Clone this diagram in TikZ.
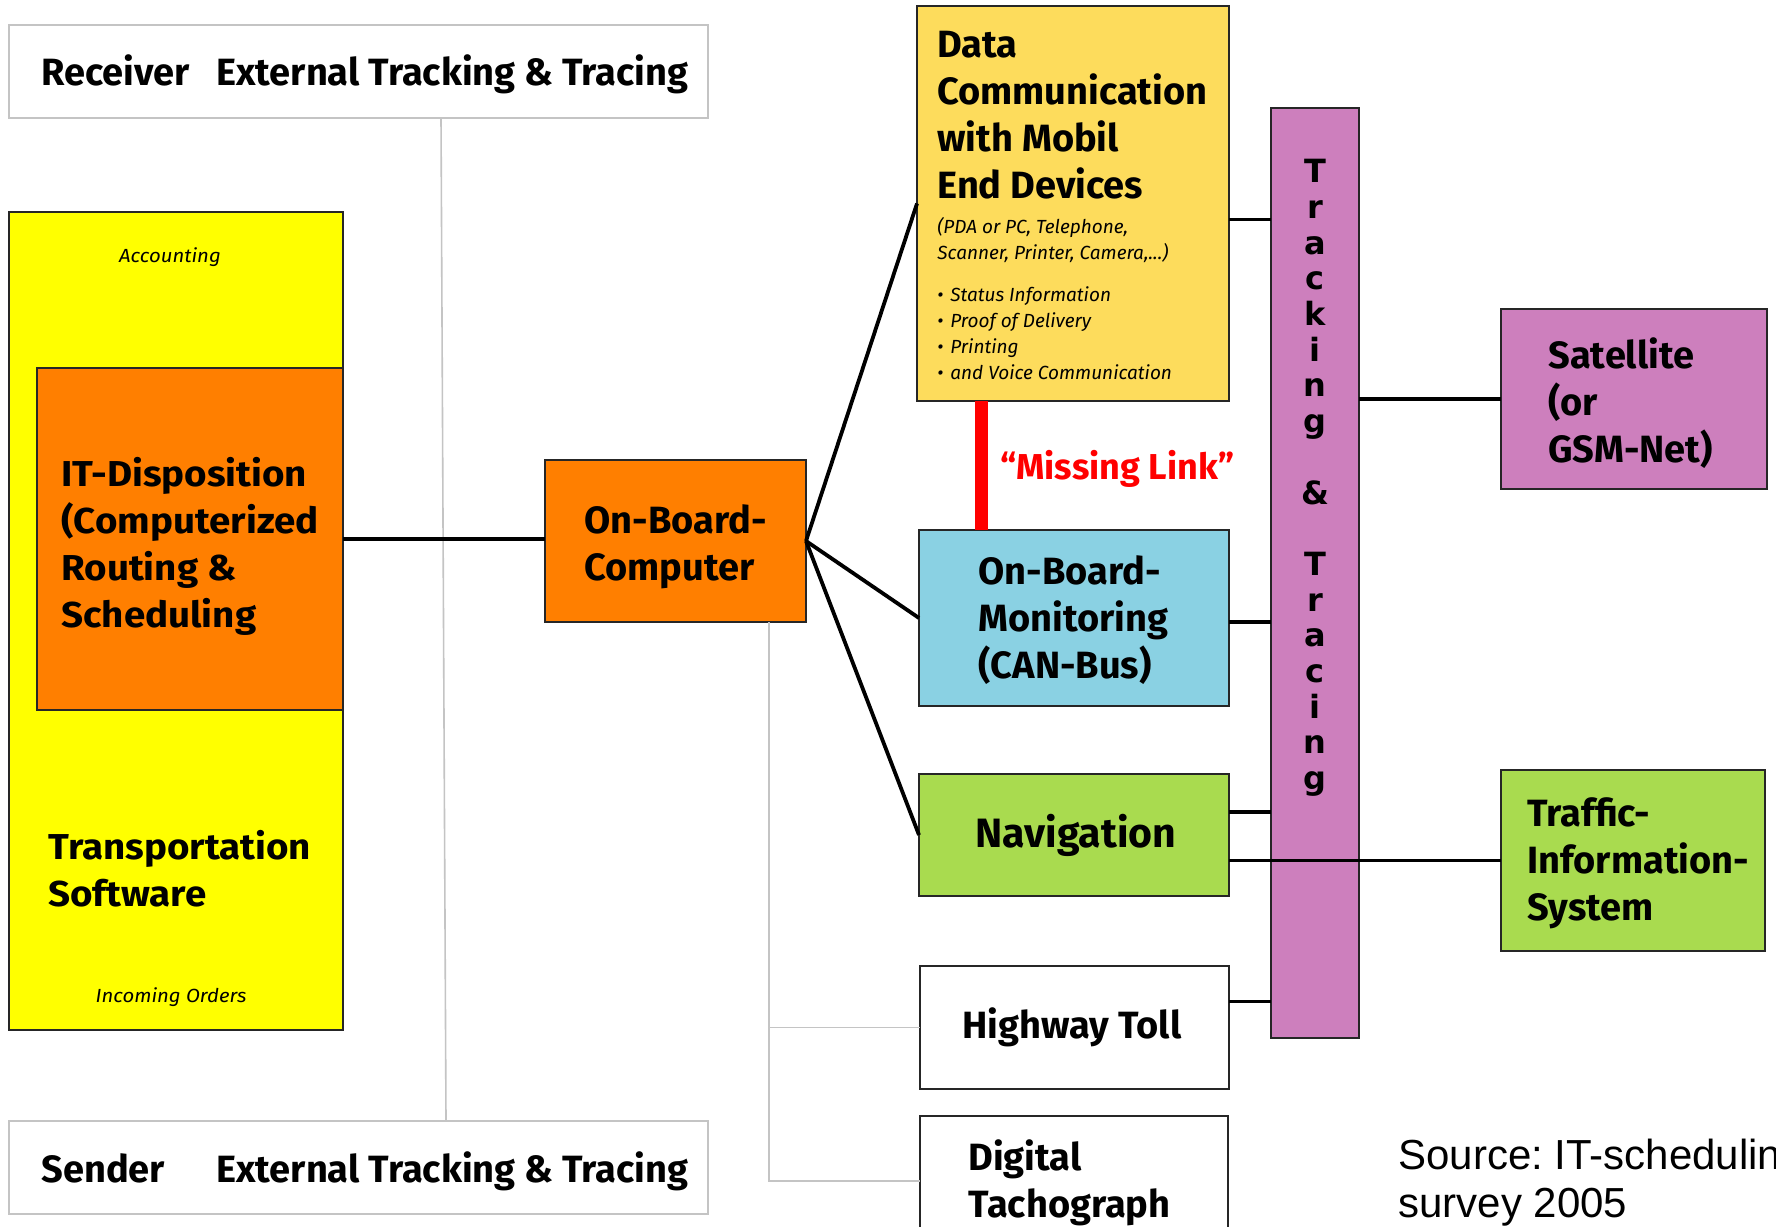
\documentclass[tikz,border=0pt]{standalone}
\usepackage{fontspec}
\setmainfont{Fira Sans}
\newfontfamily\wfont[FakeStretch=1.07]{Fira Sans}
\newfontfamily\tfont{DejaVu Sans}
\newfontfamily\afont{Liberation Sans}
\usetikzlibrary{calc}
\definecolor{cyellow}{HTML}{FFFF00}
\definecolor{corange}{HTML}{FF7F00}
\definecolor{cdata}{HTML}{FDDC5C}
\definecolor{cblue}{HTML}{8AD1E3}
\definecolor{cgreen}{HTML}{A9DB4F}
\definecolor{cpurple}{HTML}{CD7FBD}
\definecolor{lgray}{HTML}{C4C4C4}
\definecolor{cred}{HTML}{FF0000}
\frenchspacing
\begin{document}
\begin{tikzpicture}[x=0.5pt,y=-0.5pt,
  box/.style={draw=black!85, line width=1pt, anchor=north west, inner sep=0pt, outer sep=0pt},
  gbox/.style={draw=lgray, line width=1pt, anchor=north west, inner sep=0pt, outer sep=0pt},
  lbl/.style={anchor=west, align=left, inner sep=0pt, font=\fontsize{19}{23.4}\selectfont\bfseries},
  wlbl/.style={anchor=west, align=left, inner sep=0pt, font=\wfont\fontsize{18}{23.5}\selectfont\bfseries},
  smit/.style={inner sep=0pt, font=\wfont\fontsize{9.5}{12}\selectfont\itshape},
  conn/.style={line width=1.9pt, draw=black},
  gconn/.style={line width=0.8pt, draw=lgray},
]
\useasboundingbox (0,0) rectangle (1776,1226);
\fill[white] (0,0) rectangle (1776,1226);
\clip (0,0) rectangle (1776,1226);

% helper coordinates
\coordinate (vx1) at (441,0);
\coordinate (vx2) at (446,0);
\coordinate (gx) at (769,0);
\coordinate (mlx) at (981,0);

% boxes
\node[gbox, minimum width=349.5pt, minimum height=46.5pt] (rec) at (9,25) {};
\node[gbox, minimum width=349.5pt, minimum height=46.5pt] (snd) at (9,1121) {};
\draw[gconn] (rec.south -| vx1) -- (snd.north -| vx2);

\node[box, fill=cyellow, minimum width=167pt, minimum height=409pt] (ts) at (9,212) {};
\node[box, fill=corange, minimum width=153pt, minimum height=171pt] (itd) at (37,368) {};
\node[box, fill=corange, minimum width=130.5pt, minimum height=81pt] (obc) at (545,460) {};
\node[box, fill=cdata, minimum width=156pt, minimum height=197.5pt] (dc) at (917,6) {};
\node[box, fill=cblue, minimum width=155pt, minimum height=88pt] (obm) at (919,530) {};
\node[box, fill=cgreen, minimum width=155pt, minimum height=61pt] (nav) at (919,774) {};
\node[box, fill=white, minimum width=154.5pt, minimum height=61.5pt] (ht) at (920,966) {};
\node[box, fill=white, minimum width=154pt, minimum height=65pt] (dt) at (920,1116) {};
\node[box, fill=cpurple, minimum width=44pt, minimum height=465pt] (tt) at (1271,108) {};
\node[box, fill=cpurple, minimum width=133pt, minimum height=90pt] (sat) at (1501,309) {};
\node[box, fill=cgreen, minimum width=132pt, minimum height=90.5pt] (tis) at (1501,770) {};

% gray connectors from on-board computer
\draw[gconn] (obc.south -| gx) -- (dt.west -| gx) -- (dt.west);
\draw[gconn] (ht.west -| gx) -- (ht.west);

% black connectors
\draw[conn] (itd.east) -- (itd.east -| obc.west);
\draw[conn] (obc.east) -- (dc.west);
\draw[conn] (obc.east) -- (obm.west);
\draw[conn] (obc.east) -- (nav.west);
\path ($(dc.east)+(0,16)$) coordinate (p1);
\draw[conn] (p1) -- (p1 -| tt.west);
\path ($(obm.east)+(0,4)$) coordinate (p2);
\draw[conn] (p2) -- (p2 -| tt.west);
\path ($(nav.east)+(0,-23)$) coordinate (p3);
\draw[conn] (p3) -- (p3 -| tt.west);
\draw[conn] (tis.west -| nav.east) -- (tis.west);
\path ($(ht.east)+(0,-26)$) coordinate (p4);
\draw[conn] (p4) -- (p4 -| tt.west);
\draw[conn] (sat.west -| tt.east) -- (sat.west);
\draw[line width=6.5pt, cred] (dc.south -| mlx) -- (obm.north -| mlx);

% texts
\node[lbl] (rect) at (41,74) {\makebox[87.5pt][l]{Receiver}External Tracking \& Tracing};
\node[lbl] (sndt) at (41,1171) {\makebox[87.5pt][l]{Sender}External Tracking \& Tracing};
\node[smit] (acc) at (170,257) {Accounting};
\node[wlbl] (itdt) at (61,546) {IT-Disposition\\(Computerized\\Routing \&\\Scheduling};
\node[wlbl] (tst) at (48,869) {Transportation\\Software};
\node[smit] (inc) at (171,997) {Incoming Orders};
\node[lbl] (obct) at (584,547) {On-Board-\\Computer};
\node[lbl] (dct) at (937,115) {Data\\Communication\\with Mobil\\End Devices};
\node[anchor=west, align=left, inner sep=0pt, font=\fontsize{9.5}{13}\selectfont\itshape] (dci) at (937,299)
  {(PDA or PC, Telephone,\\Scanner, Printer, Camera,...)\\[8pt]
   \makebox[6.5pt][l]{•}Status Information\\
   \makebox[6.5pt][l]{•}Proof of Delivery\\
   \makebox[6.5pt][l]{•}Printing\\
   \makebox[6.5pt][l]{•}and Voice Communication};
\node[anchor=west, inner sep=0pt, text=cred, font=\fontsize{18}{22}\selectfont\bfseries] (mlt) at (1000,469) {“Missing Link”};
\node[lbl] (obmt) at (978,620) {On-Board-\\Monitoring\\(CAN-Bus)};
\node[lbl, anchor=center, font=\fontsize{20.5}{24}\selectfont\bfseries] (navt) at (1076,835) {Navigation};
\node[lbl, anchor=center] (htt) at (1072,1027) {Highway Toll};
\node[lbl] (dtt) at (968,1183) {Digital\\Tachograph};
\node[lbl] (satt) at (1548,403) {Satellite\\(or\\GSM-Net)};
\node[lbl] (tist) at (1527,863) {Traffic-\\Information-\\System};
\node[align=center, inner sep=0pt, font=\tfont\fontsize{16}{17.85}\selectfont\bfseries] (ttt) at (1315,478)
  {T\\r\\a\\c\\k\\i\\n\\g\\ \\\&\\ \\T\\r\\a\\c\\i\\n\\g};
\node[anchor=west, align=left, inner sep=0pt, font=\afont\fontsize{21}{24}\selectfont] (src) at (1398,1183)
  {Source: IT-scheduling\\survey 2005};
\end{tikzpicture}
\end{document}
